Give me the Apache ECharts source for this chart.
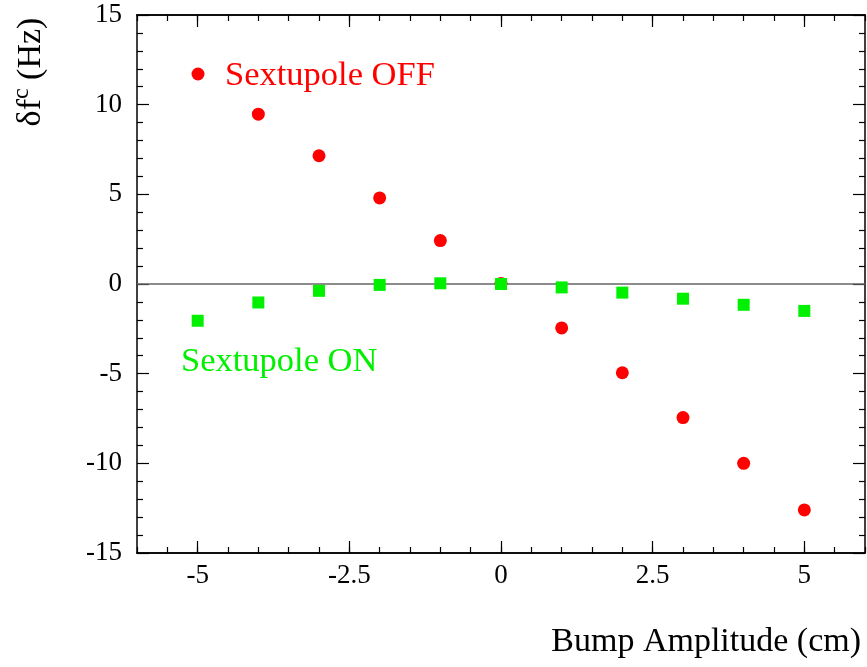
<!DOCTYPE html>
<html>
<head>
<meta charset="utf-8">
<script src="https://cdn.jsdelivr.net/npm/echarts@6/dist/echarts.min.js"></script>
<style>
html,body{margin:0;padding:0;background:#fff;}
#chart{width:867px;height:667px;}
</style>
</head>
<body>
<div id="chart"></div>
<script>
// Data
var bumpX = [-5, -4, -3, -2, -1, 0, 1, 2, 3, 4, 5];
var offX = [-4, -3, -2, -1, 0, 1, 2, 3, 4, 5];
var offY = [9.47, 7.15, 4.8, 2.42, 0.03, -2.45, -4.95, -7.45, -10.0, -12.6];
var onY = [-2.05, -1.03, -0.38, -0.05, 0.04, 0.0, -0.19, -0.48, -0.82, -1.16, -1.5];
var xMajorTicks = [-5, -2.5, 0, 2.5, 5];
var xLabels = ['-5', '-2.5', '0', '2.5', '5'];
var zeroLevel = 0;

var FONT = '"Liberation Serif", "Times New Roman", serif';
var RED = '#ff0000', GREEN = '#00f000';
var chart = echarts.init(document.getElementById('chart'), null, {renderer: 'canvas'});

function pairs(xs, ys) { return xs.map(function (x, i) { return [x, ys[i]]; }); }

var axLine = {show: true, onZero: false, lineStyle: {color: '#000', width: 1.5}};
function xAx(pos, major, labels) {
  var a = {
    type: 'value', position: pos, min: -6, max: 6,
    axisLine: axLine, splitLine: {show: false},
    axisTick: {show: true, inside: true, length: major ? 12 : 6, lineStyle: {color: '#000', width: 1.2}},
    axisLabel: {show: false}
  };
  if (major) {
    a.axisTick.customValues = xMajorTicks;
    a.axisLabel = {show: labels, customValues: xMajorTicks, margin: 9, color: '#000', fontFamily: FONT, fontSize: 27,
      formatter: function (v) { var i = xMajorTicks.indexOf(v); return i >= 0 ? xLabels[i] : ''; }};
  } else {
    a.interval = 0.5;
  }
  return a;
}
function yAx(pos, labels) {
  return {
    type: 'value', position: pos, min: -15, max: 15, interval: 5,
    axisLine: axLine, splitLine: {show: false},
    axisTick: {show: true, inside: true, length: 12, lineStyle: {color: '#000', width: 1.2}},
    minorTick: {show: true, splitNumber: 5, length: 6, lineStyle: {color: '#000', width: 1.2}},
    minorSplitLine: {show: false},
    axisLabel: {show: labels, margin: 15, color: '#000', fontFamily: FONT, fontSize: 27}
  };
}

chart.setOption({
  backgroundColor: '#fff',
  animation: false,
  grid: {left: 137, right: 2, top: 15, bottom: 114, containLabel: false},
  xAxis: [xAx('bottom', true, true), xAx('bottom', false), xAx('top', true, false), xAx('top', false)],
  yAxis: [yAx('left', true), yAx('right', false)],
  series: [
    {
      name: 'Sextupole OFF', type: 'scatter', xAxisIndex: 0, yAxisIndex: 0,
      data: pairs(offX, offY), symbol: 'circle', symbolSize: 13,
      itemStyle: {color: RED, opacity: 1}, z: 3,
      markLine: {
        silent: true, symbol: ['none', 'none'], z: 1,
        label: {show: false},
        lineStyle: {color: '#666', width: 1.5, type: 'solid'},
        data: [{yAxis: zeroLevel}]
      }
    },
    {
      name: 'Sextupole ON', type: 'scatter', xAxisIndex: 0, yAxisIndex: 0,
      data: pairs(bumpX, onY), symbol: 'rect', symbolSize: 12,
      itemStyle: {color: GREEN, opacity: 1}, z: 4
    }
  ],
  graphic: [
    {type: 'circle', shape: {cx: 198, cy: 74, r: 6.5}, style: {fill: RED}, z: 10},
    {type: 'text', x: 225, y: 58, z: 10,
      style: {text: 'Sextupole OFF', fill: RED, font: '34.5px ' + FONT, textAlign: 'left', textVerticalAlign: 'top'}},
    {type: 'text', x: 181, y: 344, z: 10,
      style: {text: 'Sextupole ON', fill: GREEN, font: '34.5px ' + FONT, textAlign: 'left', textVerticalAlign: 'top'}},
    {type: 'text', x: 861, y: 625, z: 10,
      style: {text: 'Bump Amplitude (cm)', fill: '#000', font: '34px ' + FONT, textAlign: 'right', textVerticalAlign: 'top'}},
    {type: 'text', x: 48, y: 72, rotation: Math.PI / 2, z: 10,
      style: {
        text: '{a|δf}{s|c}{a| (Hz)}', textAlign: 'center', textVerticalAlign: 'bottom',
        rich: {
          a: {fontFamily: FONT, fontSize: 34, fill: '#000', color: '#000', verticalAlign: 'bottom'},
          s: {fontFamily: FONT, fontSize: 24, fill: '#000', color: '#000', verticalAlign: 'top', padding: [0, 0, 14, 0]}
        }
      }}
  ]
});
</script>
</body>
</html>
